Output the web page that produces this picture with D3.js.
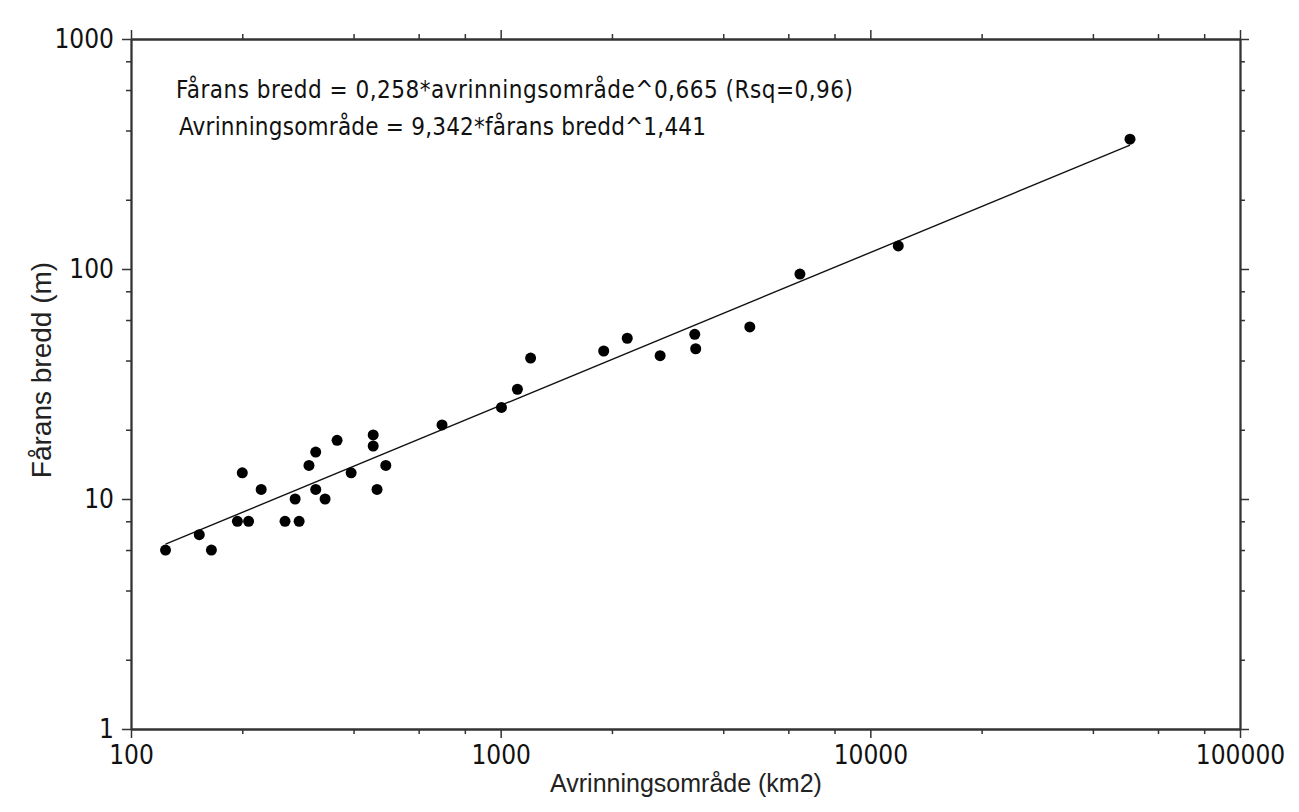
<!DOCTYPE html>
<html>
<head>
<meta charset="utf-8">
<script src="https://cdn.jsdelivr.net/npm/d3@7"></script>
<style>
    body { margin: 0; background: #fff; }
    .tick-label { font-family: "DejaVu Sans Condensed", "DejaVu Sans", sans-serif; font-size: 26px; fill: #111; }
    .eq { font-family: "DejaVu Sans Condensed", "DejaVu Sans", sans-serif; font-size: 24px; fill: #111; }
    .title { font-family: "Liberation Sans", Arial, sans-serif; fill: #222; }
</style>
</head>
<body>
<div class="chart"></div>
<script>
// data
const area = [124, 153, 165, 194, 200, 208, 225, 261, 278, 285, 303, 316, 316, 335, 361,
              394, 452, 452, 463, 489, 694, 1005, 1110, 1205, 1900, 2200, 2700, 3350, 3370,
              4720, 6450, 11900, 50400];
const bredd = [6, 7, 6, 8, 13, 8, 11, 8, 10, 8, 14, 16, 11, 10, 18,
               13, 19, 17, 11, 14, 21, 25, 30, 41, 44, 50, 42, 52, 45,
               56, 95, 126, 367];

const xMajor = [100, 1000, 10000, 100000];
const yMajor = [1, 10, 100, 1000];
const minorSteps = [2, 4, 6, 8];

const fitCoef = 0.258, fitExp = 0.665;
const eqLines = [
    "Fårans bredd = 0,258*avrinningsområde^0,665 (Rsq=0,96)",
    "Avrinningsområde = 9,342*fårans bredd^1,441"
];
const xTitle = "Avrinningsområde (km2)";
const yTitle = "Fårans bredd (m)";

const W = 1299, H = 812;
const pLeft = 131, pRight = 1240, pTop = 39, pBottom = 729;

const svg = d3.select(".chart").append("svg")
    .attr("width", W)
    .attr("height", H);

const xScale = d3.scaleLog().domain([100, 100000]).range([pLeft, pRight]);
const yScale = d3.scaleLog().domain([1, 1000]).range([pBottom, pTop]);

const minorOf = (major) => major.slice(0, -1).flatMap(m => minorSteps.map(s => m * s));
const xMinor = minorOf(xMajor);
const yMinor = minorOf(yMajor);

const axisColor = "#333";

function drawAxis(axisFn, scale, transform, major, minor, labels) {
    let gMinor = svg.append("g")
        .attr("transform", transform)
        .call(axisFn(scale).tickValues(minor).tickSize(5).tickSizeOuter(0).tickFormat(""));
    let gMajor = svg.append("g")
        .attr("transform", transform)
        .call(axisFn(scale).tickValues(major).tickSize(9).tickSizeOuter(0)
              .tickPadding(labels ? 8 : 0)
              .tickFormat(labels ? d3.format("d") : ""));
    [gMinor, gMajor].forEach(g => {
        g.attr("font-family", null).attr("font-size", null);
        g.selectAll("path.domain").attr("stroke", axisColor).attr("stroke-width", 1.8);
        g.selectAll(".tick line").attr("stroke", axisColor).attr("stroke-width", 1.5);
    });
    gMajor.selectAll(".tick text").attr("class", "tick-label").attr("fill", null);
    return gMajor;
}

drawAxis(d3.axisBottom, xScale, `translate(0,${pBottom})`, xMajor, xMinor, true);
drawAxis(d3.axisTop, xScale, `translate(0,${pTop})`, xMajor, xMinor, false);
drawAxis(d3.axisLeft, yScale, `translate(${pLeft},0)`, yMajor, yMinor, true);
drawAxis(d3.axisRight, yScale, `translate(${pRight},0)`, yMajor, yMinor, false);

// regression line across the data range
const xr = d3.extent(area);
svg.append("line")
    .attr("x1", xScale(xr[0]))
    .attr("y1", yScale(fitCoef * Math.pow(xr[0], fitExp)))
    .attr("x2", xScale(xr[1]))
    .attr("y2", yScale(fitCoef * Math.pow(xr[1], fitExp)))
    .attr("stroke", "#111")
    .attr("stroke-width", 1.4);

// points
svg.selectAll("circle.pt")
    .data(area.map((a, i) => [a, bredd[i]]))
    .enter()
    .append("circle")
    .attr("class", "pt")
    .attr("cx", d => xScale(d[0]))
    .attr("cy", d => yScale(d[1]))
    .attr("r", 5.5)
    .attr("fill", "#000");

// equations
const eqWidths = [677, 527];
svg.selectAll("text.eq")
    .data(eqLines)
    .enter()
    .append("text")
    .attr("class", "eq")
    .attr("x", (d, i) => i == 0 ? 176 : 179)
    .attr("y", (d, i) => 98 + i * 37)
    .attr("textLength", (d, i) => eqWidths[i])
    .attr("lengthAdjust", "spacing")
    .text(d => d);

svg.append("text")
    .attr("class", "title")
    .attr("x", 686)
    .attr("y", 792)
    .attr("text-anchor", "middle")
    .style("font-size", "25px")
    .text(xTitle);

svg.append("text")
    .attr("class", "title")
    .attr("transform", "translate(51,370) rotate(-90)")
    .attr("text-anchor", "middle")
    .style("font-size", "28px")
    .text(yTitle);
</script>
</body>
</html>
